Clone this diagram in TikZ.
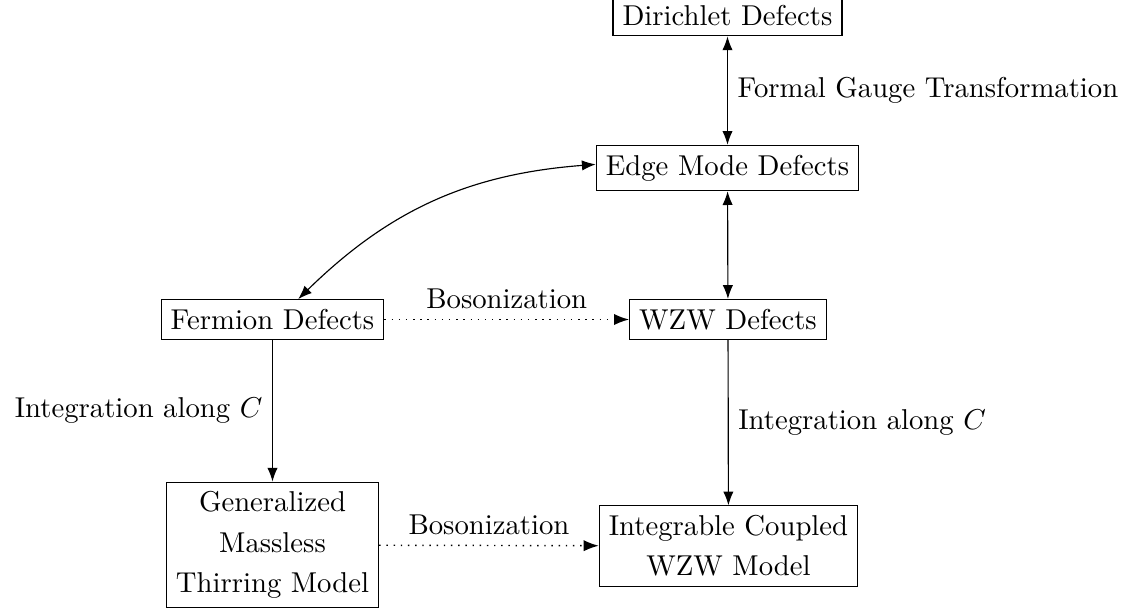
\documentclass[tikz,border=0pt]{standalone}
\usetikzlibrary{arrows.meta}
\begin{document}
\begin{tikzpicture}[x=0.3484pt,y=-0.3484pt,
  box/.style={draw, align=center},
  oneway/.style={-Latex},
  twoway/.style={Latex-Latex},
  dotway/.style={-Latex, dotted, line width=0.5pt}]
\useasboundingbox (0,0) rectangle (1133,615);
\node[box] (dir) at (727.5,16) {Dirichlet Defects};
\node[box] (edge) at (727.5,168) {Edge Mode Defects};
\node[box] (wzw) at (728,319.5) {WZW Defects};
\node[box] (ferm) at (272.5,319.5) {Fermion Defects};
\node[box] (gen) at (272.5,545) {Generalized\\[2pt] Massless\\[2pt] Thirring Model};
\node[box] (icw) at (728.5,546) {Integrable Coupled\\[2pt] WZW Model};
\draw[twoway] (dir) -- node[right] {Formal Gauge Transformation} (edge);
\draw[twoway] (edge) -- (wzw);
\draw[twoway] (ferm) to[bend left=20] (edge);
\draw[dotway] (ferm) -- node[above] {Bosonization} (wzw);
\draw[oneway] (ferm) -- node[left] {Integration along $C$} (gen);
\draw[oneway] (wzw) -- node[right] {Integration along $C$} (icw);
\draw[dotway] (gen) -- node[above] {Bosonization} (icw);
\end{tikzpicture}
\end{document}
